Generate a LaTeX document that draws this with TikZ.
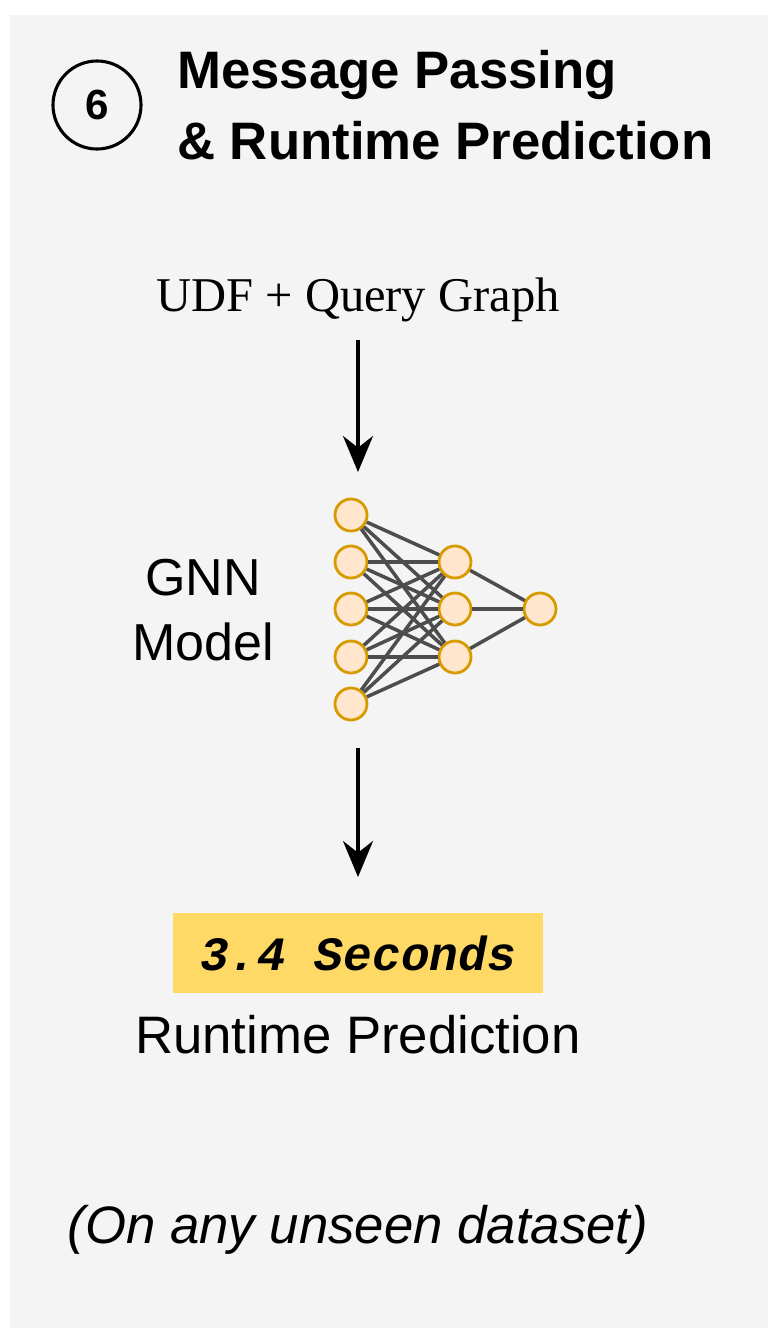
\documentclass[tikz,border=0pt]{standalone}
\usepackage{fontspec}
\setmainfont{Liberation Serif}
\setsansfont{Liberation Sans}
\setmonofont{Liberation Mono}
\usetikzlibrary{arrows.meta, positioning}
\definecolor{panel}{HTML}{F4F4F4}
\definecolor{neuronfill}{HTML}{FFE6CC}
\definecolor{neurondraw}{HTML}{D79B00}
\definecolor{edgegray}{HTML}{4D4D4D}
\definecolor{resultbox}{HTML}{FFD966}
\begin{document}
\begin{tikzpicture}[
		x=0.025cm, y=-0.025cm,
		neuron/.style={circle, draw=neurondraw, fill=neuronfill, line width=2pt, minimum size=0.8cm, inner sep=0pt},
		link/.style={draw=edgegray, line width=2.5pt},
		arrow/.style={-{Stealth[length=0.9cm, width=0.75cm]}, line width=2.2pt}
		]
		
		% Panel
		\useasboundingbox (0,0) rectangle (780,1342);
		\fill[white] (0,0) rectangle (780,1342);
		\fill[panel] (10,15) rectangle (768,1328);
		
		% Title
		\node[circle, draw, line width=2.2pt, minimum size=2.2cm, font=\sffamily\bfseries\fontsize{30}{32}\selectfont] (step) at (97,105) {6};
		\node[anchor=west, align=left, inner sep=0pt, font=\sffamily\bfseries\fontsize{37.5}{50}\selectfont] (title) at (177,105) {Message Passing\\\& Runtime Prediction};
		
		% Input
		\node[font=\fontsize{34.5}{36}\selectfont] (input) at (358,300) {UDF + Query Graph};
		\coordinate (intop) at (358,340);
		\coordinate (inbot) at (358,472);
		
		% Network
		\foreach \i/\y in {1/515, 2/562, 3/609, 4/657, 5/704}
			\node[neuron] (in\i) at (351,\y) {};
		\foreach \j/\y in {1/562, 2/609, 3/657}
			\node[neuron] (hid\j) at (455,\y) {};
		\node[neuron] (out) at (540,609) {};
		\begin{scope}[on background layer/.try]
			\foreach \i in {1,...,5}
				\foreach \j in {1,2,3}
					\draw[link] (in\i) -- (hid\j);
			\foreach \j in {1,2,3}
				\draw[link] (hid\j) -- (out);
		\end{scope}
		\node[align=center, font=\sffamily\fontsize{37}{46}\selectfont] (gnn) at (203,610) {GNN\\Model};
		
		% Output
		\coordinate (outtop) at (358,748);
		\coordinate (outbot) at (358,877);
		\node[fill=resultbox, minimum width=9.25cm, minimum height=1.98cm, font=\ttfamily\bfseries\itshape\fontsize{34}{36}\selectfont] (result) at (358,953) {3.4 Seconds};
		\node[font=\sffamily\fontsize{37.5}{40}\selectfont] (label) at (358,1035) {Runtime Prediction};
		\node[font=\sffamily\itshape\fontsize{37.5}{40}\selectfont] (note) at (358,1230) {(On any unseen dataset)};
		
		% Arrows
		\draw[arrow] (intop) -- (inbot);
		\draw[arrow] (outtop) -- (outbot);
		
	\end{tikzpicture}
\end{document}
